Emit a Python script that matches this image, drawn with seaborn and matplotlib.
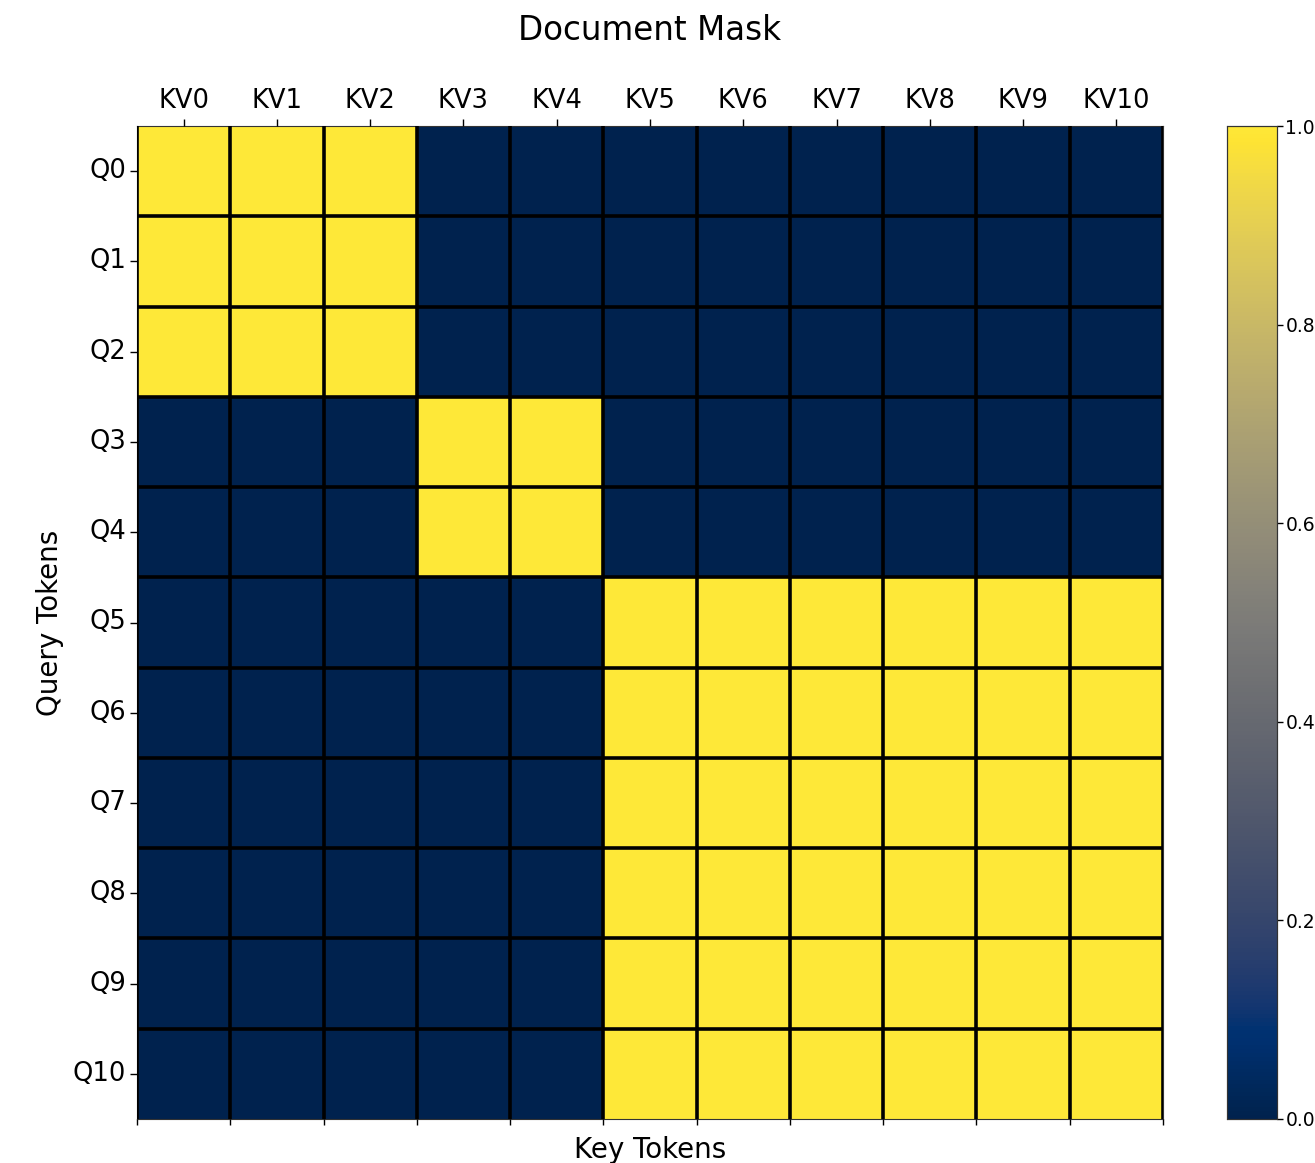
import numpy as np
import pandas as pd
import matplotlib
matplotlib.use("Agg")
import matplotlib.pyplot as plt
import seaborn as sns

# Token labels
kv_labels = ["KV0", "KV1", "KV2", "KV3", "KV4", "KV5", "KV6", "KV7", "KV8", "KV9", "KV10"]
q_labels = ["Q0", "Q1", "Q2", "Q3", "Q4", "Q5", "Q6", "Q7", "Q8", "Q9", "Q10"]

# Document attention mask (1 = query may attend to key)
mask_rows = [
    [1, 1, 1, 0, 0, 0, 0, 0, 0, 0, 0],
    [1, 1, 1, 0, 0, 0, 0, 0, 0, 0, 0],
    [1, 1, 1, 0, 0, 0, 0, 0, 0, 0, 0],
    [0, 0, 0, 1, 1, 0, 0, 0, 0, 0, 0],
    [0, 0, 0, 1, 1, 0, 0, 0, 0, 0, 0],
    [0, 0, 0, 0, 0, 1, 1, 1, 1, 1, 1],
    [0, 0, 0, 0, 0, 1, 1, 1, 1, 1, 1],
    [0, 0, 0, 0, 0, 1, 1, 1, 1, 1, 1],
    [0, 0, 0, 0, 0, 1, 1, 1, 1, 1, 1],
    [0, 0, 0, 0, 0, 1, 1, 1, 1, 1, 1],
    [0, 0, 0, 0, 0, 1, 1, 1, 1, 1, 1],
]
cbar_ticks = [0.0, 0.2, 0.4, 0.6, 0.8, 1.0]

mask = pd.DataFrame(np.array(mask_rows, dtype=float), index=q_labels, columns=kv_labels)

sns.set_style("white")
plt.rcParams["font.family"] = ["DejaVu Sans"]
plt.rcParams.update({
    "text.color": "black",
    "axes.labelcolor": "black",
    "xtick.color": "black",
    "ytick.color": "black",
})

W, H = 1315, 1163
fig = plt.figure(figsize=(W / 100, H / 100), dpi=100)
ax = fig.add_axes([137 / W, 1 - 1119 / H, (1163 - 137) / W, (1119 - 126) / H])
cax = fig.add_axes([1227 / W, 1 - 1119 / H, (1277 - 1227) / W, (1119 - 126) / H])

sns.heatmap(mask, ax=ax, cbar_ax=cax, cmap="cividis", vmin=0, vmax=1,
            linewidths=0, square=False, cbar_kws={"ticks": cbar_ticks})

# Key labels on top, cell-edge ticks on the bottom
ax.xaxis.tick_top()
ax.set_xticks(np.arange(len(kv_labels)) + 0.5)
ax.set_xticklabels(kv_labels, fontsize=18.5, rotation=0)
ax.set_yticks(np.arange(len(q_labels)) + 0.5)
ax.set_yticklabels(q_labels, fontsize=18.5, rotation=0)
ax.tick_params(axis="x", which="major", top=True, bottom=False, length=5, width=1, pad=4)
ax.tick_params(axis="y", which="major", left=True, length=5, width=1, pad=3)
ax.set_xticks(np.arange(len(kv_labels) + 1), minor=True)
ax.set_yticks(np.arange(1, len(q_labels)), minor=True)
ax.tick_params(axis="x", which="minor", bottom=True, top=False, length=4, width=1)
ax.tick_params(axis="y", which="minor", left=False, length=0)

# Black cell separators
ax.set_axisbelow(False)
ax.grid(which="minor", color="black", linewidth=2.6)
ax.grid(which="major", visible=False)

for s in ax.spines.values():
    s.set_visible(True)
    s.set_linewidth(0.8)
    s.set_color("#333333")

ax.xaxis.set_label_position("bottom")
ax.set_xlabel("Key Tokens", fontsize=20, labelpad=8)
ax.set_ylabel("Query Tokens", fontsize=20, labelpad=6)
ax.set_title("Document Mask", fontsize=23.5, pad=62)

cax.tick_params(labelsize=13.5, length=4, width=1, pad=2)
cax.set_yticklabels([f"{t:.1f}" for t in cbar_ticks])
for s in cax.spines.values():
    s.set_visible(True)
    s.set_linewidth(0.8)
    s.set_color("#333333")

fig.savefig("out.png", dpi=100)
